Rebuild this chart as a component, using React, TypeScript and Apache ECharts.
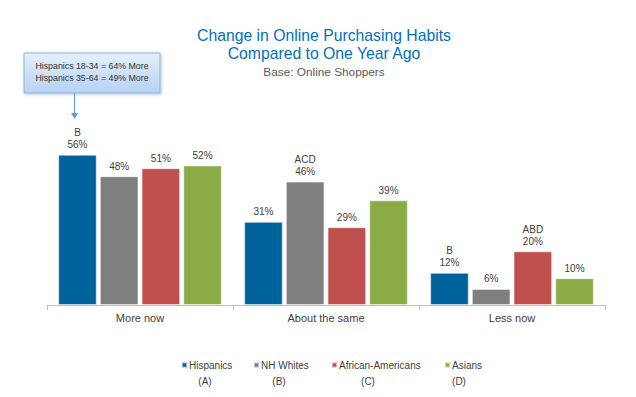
import React, { useEffect, useRef } from "react";
import * as echarts from "echarts";

const categories = ["More now", "About the same", "Less now"];
const seriesNames = ["Hispanics", "NH Whites", "African-Americans", "Asians"];
const seriesLetters = ["(A)", "(B)", "(C)", "(D)"];
const hispanics = [56, 31, 12];
const nhWhites = [48, 46, 6];
const africanAmericans = [51, 29, 20];
const asians = [52, 39, 10];
const hispanicsSig = ["B", "", "B"];
const nhWhitesSig = ["", "ACD", ""];
const africanAmericansSig = ["", "", "ABD"];
const asiansSig = ["", "", ""];
const colors = ["#00629B", "#7F7F7F", "#C0504D", "#8BAB47"];
const calloutLines = ["Hispanics 18-34 = 64% More", "Hispanics 35-64 = 49% More"];

const FONT = "'Liberation Sans', Arial, sans-serif";

export default function App() {
  const ref = useRef<HTMLDivElement>(null);
  useEffect(() => {
    if (!ref.current) return;
    const chart = echarts.init(ref.current, null, { renderer: "svg" });
    const values = [hispanics, nhWhites, africanAmericans, asians];
    const sigs = [hispanicsSig, nhWhitesSig, africanAmericansSig, asiansSig];
    const series = seriesNames.map((name, i) => ({
      name,
      type: "bar",
      data: values[i],
      barGap: "8%",
      barCategoryGap: "12%",
      itemStyle: { color: colors[i], borderColor: "rgba(255,255,255,0.5)", borderWidth: 1 },
      label: {
        show: true,
        position: "top",
        distance: 4,
        fontFamily: FONT,
        formatter: (p: any) => {
          const s = sigs[i][p.dataIndex];
          return s ? `{l|${s}}\n{v|${p.value}%}` : `{v|${p.value}%}`;
        },
        rich: {
          l: { fontSize: 10, color: "#404040", lineHeight: 12, fontFamily: FONT },
          v: { fontSize: 10, color: "#404040", lineHeight: 12, fontFamily: FONT },
        },
      },
    }));
    const legendIconX = [181, 253, 331, 444];
    const legendLetterX = [205, 279, 368, 459];
    chart.setOption({
      animation: false,
      textStyle: { fontFamily: FONT },
      title: [
        {
          text: "Change in Online Purchasing Habits\nCompared to One Year Ago",
          left: 319,
          textAlign: "center",
          top: 21,
          textStyle: { fontSize: 15.75, fontWeight: "normal", color: "#0070C0", lineHeight: 18, fontFamily: FONT },
        },
        {
          text: "Base: Online Shoppers",
          left: 319,
          textAlign: "center",
          top: 61,
          textStyle: { fontSize: 11.8, fontWeight: "normal", color: "#595959", fontFamily: FONT },
        },
      ],
      legend: seriesNames.map((name, i) => ({
        data: [name],
        left: legendIconX[i],
        top: 360,
        padding: 0,
        itemWidth: 5,
        itemHeight: 5,
        icon: "rect",
        textStyle: { fontSize: 10, color: "#404040", fontFamily: FONT, padding: [0, 0, 0, -3] },
      })),
      grid: { left: 47, right: 31, top: 144, bottom: 92 },
      xAxis: {
        type: "category",
        data: categories,
        axisLine: { lineStyle: { color: "#BFBFBF" } },
        axisTick: { show: true, length: 5, lineStyle: { color: "#BFBFBF" } },
        axisLabel: { fontSize: 11, color: "#404040", margin: 7, fontFamily: FONT },
      },
      yAxis: { type: "value", min: 0, max: 60, show: false, splitLine: { show: false } },
      series,
      graphic: [
        {
          type: "rect",
          shape: { x: 24, y: 53, width: 136, height: 40 },
          style: {
            fill: new echarts.graphic.LinearGradient(0, 0, 0, 1, [
              { offset: 0, color: "#E6F0FB" },
              { offset: 1, color: "#B4D2F2" },
            ]),
            stroke: "#8DB3E2",
            lineWidth: 1,
            shadowBlur: 3,
            shadowColor: "rgba(0,0,0,0.25)",
            shadowOffsetX: 1,
            shadowOffsetY: 1,
          },
        },
        {
          type: "text",
          style: {
            x: 92,
            y: 72,
            text: calloutLines.join("\n"),
            align: "center",
            verticalAlign: "middle",
            fontSize: 8.8,
            lineHeight: 11.5,
            fill: "#333333",
            fontFamily: FONT,
          },
        },
        {
          type: "line",
          shape: { x1: 74.5, y1: 93, x2: 74.5, y2: 114 },
          style: { stroke: "#5B9BD5", lineWidth: 1 },
        },
        {
          type: "polygon",
          shape: { points: [[71, 113], [78, 113], [74.5, 119]] },
          style: { fill: "#5B9BD5" },
        },
        ...seriesLetters.map((t, i) => ({
          type: "text",
          style: {
            x: legendLetterX[i],
            y: 381,
            text: t,
            align: "center",
            verticalAlign: "middle",
            fontSize: 10,
            fill: "#404040",
            fontFamily: FONT,
          },
        })),
      ],
    });
    return () => chart.dispose();
  }, []);
  return <div ref={ref} style={{ width: 636, height: 397, position: "absolute", left: 0, top: 0 }} />;
}
